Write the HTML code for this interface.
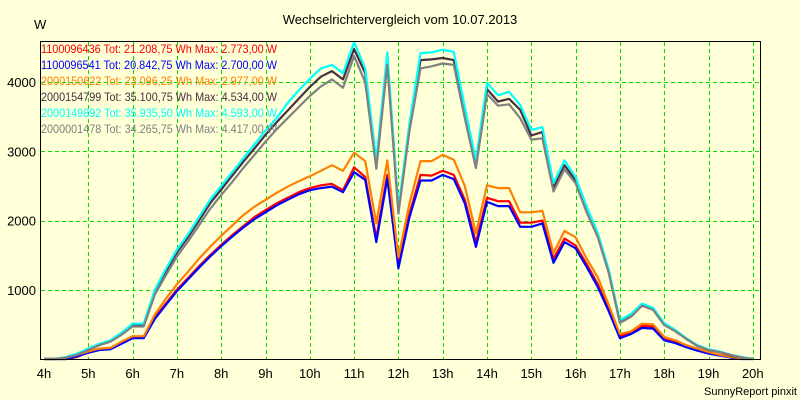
<!DOCTYPE html>
<html><head><meta charset="utf-8"><style>
html,body{margin:0;padding:0;background:#ffffd8;}
svg{display:block;font-family:"Liberation Sans",sans-serif;}
</style></head><body>
<svg id="chart" width="800" height="400" xmlns="http://www.w3.org/2000/svg">
<rect x="0" y="0" width="800" height="400" fill="#ffffd8"/>
<text x="400" y="24" text-anchor="middle" font-size="13" fill="#000">Wechselrichtervergleich vom 10.07.2013</text>
<text x="34" y="29" font-size="13" fill="#000">W</text>
<g id="grid"></g>
<g id="yticks"></g>
<g id="xticks"></g>
<g id="series"></g>
<g id="legend"></g>
<line x1="40" y1="359.5" x2="760" y2="359.5" stroke="#000"/>
<line x1="40.5" y1="41" x2="40.5" y2="360" stroke="#000"/>
<line x1="40" y1="41.5" x2="760" y2="41.5" stroke="#000"/>
<line x1="760.5" y1="41" x2="760.5" y2="360" stroke="#000"/>
<text x="797" y="395" text-anchor="end" font-size="11" fill="#000">SunnyReport pinxit</text>
</svg>
<script>
const hourTicks = [4,5,6,7,8,9,10,11,12,13,14,15,16,17,18,19,20];
const valueTicks = [1000,2000,3000,4000];
const seriesNames = ["1100096436","1100096541","2000150622","2000154799","2000149892","2000001478"];
const seriesTotals = ["21.208,75","20.842,75","23.096,25","35.100,75","35.935,50","34.265,75"];
const seriesMax = ["2.773,00","2.700,00","2.977,00","4.534,00","4.593,00","4.417,00"];
const seriesRed = [0,0,0,30, 100,140,150,230, 310,310,600,800, 1000,1170,1340,1500, 1650,1790,1920,2050, 2150,2250,2330,2410, 2470,2510,2530,2440, 2770,2630,1750,2660, 1400,2100,2660,2650, 2720,2660,2300,1680, 2330,2280,2280,1970, 1970,2000,1450,1740, 1640,1370,1080,720, 330,380,480,470, 290,250,190,140, 90,60,40,10, 0];
const seriesBlue = [0,0,0,40, 90,130,140,220, 300,300,580,780, 980,1150,1320,1480, 1630,1770,1900,2020, 2120,2220,2300,2380, 2440,2470,2490,2410, 2700,2590,1690,2610, 1310,2050,2580,2580, 2660,2600,2250,1620, 2270,2210,2210,1910, 1910,1960,1390,1690, 1600,1330,1040,690, 300,360,450,440, 270,230,170,120, 80,50,20,0, 0];
const seriesOrange = [0,0,20,60, 110,150,160,250, 330,330,640,870, 1080,1260,1450,1620, 1780,1930,2080,2200, 2300,2400,2490,2570, 2640,2720,2800,2720, 2980,2860,1960,2870, 1470,2250,2860,2860, 2950,2880,2500,1820, 2510,2470,2470,2120, 2120,2140,1530,1850, 1760,1450,1180,780, 360,400,510,500, 320,270,200,150, 100,60,30,10, 0];
const seriesDark = [0,0,20,70, 140,210,260,360, 490,490,970,1260, 1540,1760,2000,2250, 2450,2650,2850,3040, 3240,3420,3590,3760, 3930,4080,4160,4040, 4480,4130,2820,4340, 2150,3350,4320,4330, 4350,4320,3560,2830, 3900,3720,3760,3600, 3230,3280,2480,2800, 2580,2160,1790,1260, 540,630,780,720, 500,410,290,190, 130,100,50,20, 0];
const seriesCyan = [0,0,30,80, 150,220,270,380, 510,510,1000,1300, 1580,1800,2050,2300, 2500,2700,2900,3100, 3300,3480,3700,3880, 4050,4200,4250,4130, 4580,4200,2870,4430, 2180,3410,4420,4430, 4470,4440,3640,2870, 3990,3810,3860,3670, 3310,3350,2540,2870, 2630,2200,1820,1290, 560,650,800,740, 520,420,300,200, 140,110,60,30, 0];
const seriesGray = [0,0,20,60, 130,200,250,350, 470,470,930,1210, 1480,1700,1930,2170, 2370,2560,2760,2950, 3140,3320,3480,3640, 3800,3940,4040,3920, 4380,4000,2750,4250, 2100,3300,4200,4230, 4270,4250,3480,2760, 3830,3660,3680,3480, 3170,3190,2420,2740, 2540,2120,1760,1240, 520,610,770,710, 490,400,290,190, 130,100,60,20, 0];

const NS = "http://www.w3.org/2000/svg";
const xOf = h => 44 + (h - 4) * 44.3;
const yOf = v => 359 - v * 0.0692;
const mk = (tag, attrs, parent) => { const e = document.createElementNS(NS, tag); for (const k in attrs) e.setAttribute(k, attrs[k]); parent.appendChild(e); return e; };

const grid = document.getElementById('grid');
const xt = document.getElementById('xticks');
const yt = document.getElementById('yticks');
hourTicks.forEach(h => {
  const x = Math.round(xOf(h)) + 0.5;
  if (h > 4) {
    const l = mk('line', {x1:x, y1:42, x2:x, y2:359, stroke:'#00e000', 'stroke-dasharray':'4,3'}, grid);
    
    
  }
  const t = mk('text', {x:xOf(h), y:378, 'text-anchor':'middle', 'font-size':13, fill:'#000'}, xt);
  t.textContent = h + 'h';
  
  
});
valueTicks.forEach(v => {
  const y = Math.round(yOf(v)) + 0.5;
  const l = mk('line', {x1:41, y1:y, x2:760, y2:y, stroke:'#00e000', 'stroke-dasharray':'4,3'}, grid);
  
  
  const t = mk('text', {x:36, y:yOf(v) + 5, 'text-anchor':'end', 'font-size':13, fill:'#000'}, yt);
  t.textContent = v;
  
  
});

const allSeries = [seriesRed, seriesBlue, seriesOrange, seriesDark, seriesCyan, seriesGray];
const colors = ['#ff0000', '#0000ff', '#ff8000', '#483040', '#00ffff', '#808080'];
const sg = document.getElementById('series');
allSeries.forEach((data, i) => {
  const pts = data.map((v, k) => xOf(4 + k * 0.25).toFixed(1) + ',' + yOf(v).toFixed(1)).join(' ');
  const p = mk('polyline', {points:pts, fill:'none', stroke:colors[i], 'stroke-width':2.2, 'stroke-linejoin':'round'}, sg);
  
  
});

const lg = document.getElementById('legend');
seriesNames.forEach((n, i) => {
  const t = mk('text', {x:41, y:53 + i * 16, 'font-size':12, fill:colors[i], textLength:236, lengthAdjust:'spacingAndGlyphs'}, lg);
  t.textContent = n + ' Tot: ' + seriesTotals[i] + ' Wh Max: ' + seriesMax[i] + ' W';
  
  
});
</script>
</body></html>
